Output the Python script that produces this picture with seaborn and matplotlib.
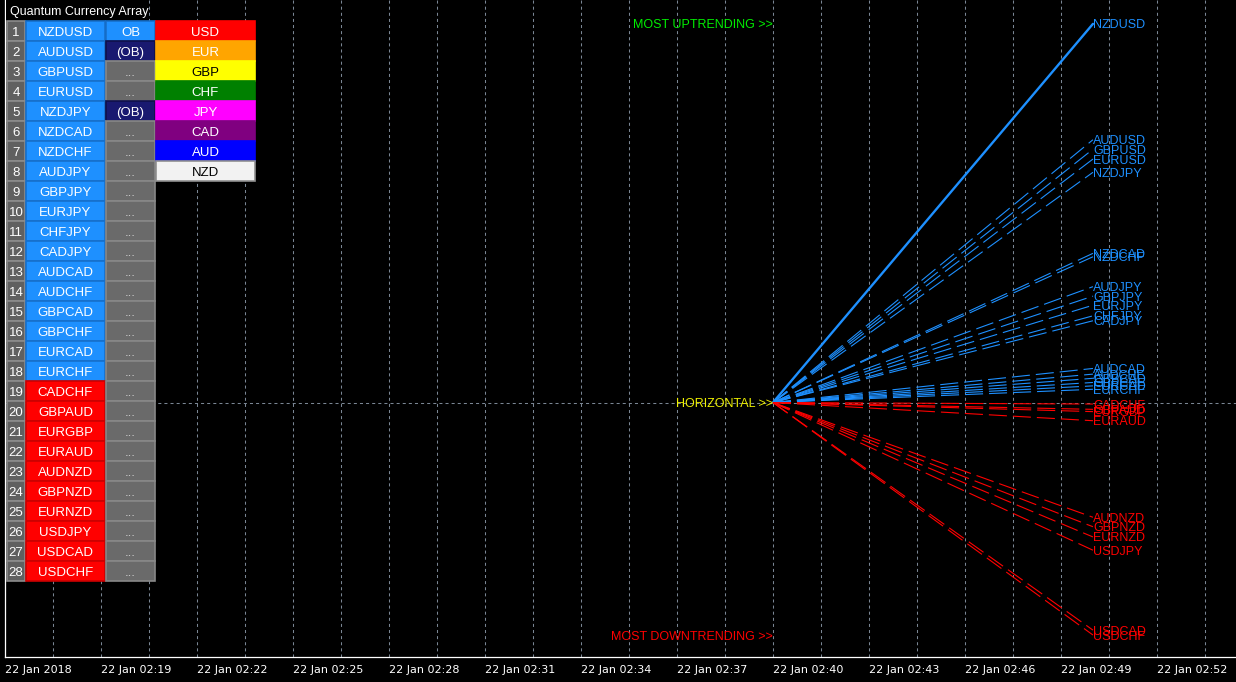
import numpy as np
import pandas as pd
import seaborn as sns
import matplotlib.pyplot as plt
from matplotlib.patches import Rectangle

# Pairs sorted by strength (top of table = strongest)
pairs = ["NZDUSD", "AUDUSD", "GBPUSD", "EURUSD", "NZDJPY", "NZDCAD", "NZDCHF",
         "AUDJPY", "GBPJPY", "EURJPY", "CHFJPY", "CADJPY", "AUDCAD", "AUDCHF",
         "GBPCAD", "GBPCHF", "EURCAD", "EURCHF", "CADCHF", "GBPAUD", "EURGBP",
         "EURAUD", "AUDNZD", "GBPNZD", "EURNZD", "USDJPY", "USDCAD", "USDCHF"]
strength = [100.0, 69.4, 66.9, 64.3, 60.8, 39.4, 38.5,
            30.6, 28.1, 25.7, 22.9, 21.6, 9.0, 7.5,
            6.4, 5.3, 4.4, 3.5, -0.4, -1.8, -2.4,
            -4.8, -30.3, -32.8, -35.5, -39.0, -60.1, -61.4]
status = ["OB", "(OB)", "...", "...", "(OB)"] + ["..."] * 23

currencies = ["USD", "EUR", "GBP", "CHF", "JPY", "CAD", "AUD", "NZD"]
currency_colors = ["#ff0000", "#ffa500", "#ffff00", "#008000",
                   "#ff00ff", "#800080", "#0000ff", "#f2f2f2"]

# time axis in minutes after 02:16
tick_minutes = list(range(0, 37, 3))
tick_labels = ["22 Jan 2018", "22 Jan 02:19", "22 Jan 02:22", "22 Jan 02:25",
               "22 Jan 02:28", "22 Jan 02:31", "22 Jan 02:34", "22 Jan 02:37",
               "22 Jan 02:40", "22 Jan 02:43", "22 Jan 02:46", "22 Jan 02:49",
               "22 Jan 02:52"]
start_min = 24   # 02:40
end_min = 34     # 02:50

BLUE = "#1e90ff"
RED = "#ff0000"
GRID = "#7a8694"

sns.set_style("dark", {"axes.facecolor": "black", "figure.facecolor": "black"})
plt.rcParams["font.family"] = ["Liberation Sans", "DejaVu Sans"]
plt.rcParams["lines.scale_dashes"] = False

rows = []
for p, v in zip(pairs, strength):
    kind = "solid" if p == pairs[0] else "dashed"
    rows.append((p, start_min, 0.0, kind))
    rows.append((p, end_min, v, kind))
df = pd.DataFrame(rows, columns=["pair", "minute", "strength", "kind"])
pal = {p: (BLUE if v >= 0 else RED) for p, v in zip(pairs, strength)}

fig = plt.figure(figsize=(12.36, 6.82), dpi=100)
ax = fig.add_axes([5 / 1236, 25 / 682, 1231 / 1236, 657 / 682])

sns.lineplot(data=df, x="minute", y="strength", hue="pair", palette=pal,
             style="kind", dashes={"solid": "", "dashed": (13, 4.3)},
             size="kind", sizes={"solid": 1.7, "dashed": 0.8},
             legend=False, errorbar=None, ax=ax)

ax.set_xlim(0, 38.47)
ax.set_ylim(-67.2, 106.3)
ax.set_xlabel("")
ax.set_ylabel("")
ax.set_yticks([])
ax.set_xticks(tick_minutes)
ax.set_xticklabels(tick_labels, ha="left", fontfamily="DejaVu Sans")
ax.set_xticks(np.arange(1.5, 38.5, 3), minor=True)
ax.tick_params(axis="x", which="major", length=3.6, width=0.8, color="white",
               labelcolor="white", labelsize=8, pad=2)
ax.tick_params(axis="x", which="minor", length=0)
ax.grid(False)
ax.grid(True, axis="x", which="both", color=GRID, linestyle=(0, (2.2, 2.2)), linewidth=0.75)
ax.axhline(0, color=GRID, linestyle=(0, (2.2, 2.2)), linewidth=0.75, zorder=0.5)
for s in ["top", "right"]:
    ax.spines[s].set_visible(False)
for s in ["left", "bottom"]:
    ax.spines[s].set_color("white")
    ax.spines[s].set_linewidth(0.9)

# labels at the end of each line
for p, v in zip(pairs, strength):
    ax.text(end_min, v, p, color=pal[p], fontsize=9, ha="left", va="center_baseline")

ax.text(start_min, max(strength), "MOST UPTRENDING >>", color="#00ee00", fontsize=9,
        ha="right", va="center_baseline")
ax.text(start_min, 0, "HORIZONTAL >>", color="#eef000", fontsize=9,
        ha="right", va="center_baseline")
ax.text(start_min, min(strength), "MOST DOWNTRENDING >>", color=RED, fontsize=9,
        ha="right", va="center_baseline")

# table overlay in pixel coordinates
tab = fig.add_axes([0, 0, 1, 1], zorder=5)
tab.set_xlim(0, 1236)
tab.set_ylim(682, 0)
tab.axis("off")
tab.patch.set_alpha(0)


def cell(x, y, w, h, fc, ec, text, tc):
    tab.add_patch(Rectangle((x, y), w, h, facecolor=fc, edgecolor=ec, linewidth=1.2))
    tab.text(x + w / 2, y + h / 2 + 0.5, text, color=tc, fontsize=9.5,
             ha="center", va="center_baseline")


tab.add_patch(Rectangle((6, 0), 143, 21, facecolor="black", edgecolor="none"))
tab.text(10, 11, "Quantum Currency Array", color="white", fontsize=9,
         ha="left", va="center_baseline")

for i, (p, v, st) in enumerate(zip(pairs, strength, status)):
    y = 21 + 20 * i
    cell(7, y, 18, 20, "#606060", "#8c8c8c", str(i + 1), "white")
    if v >= 0:
        cell(26, y, 79, 20, BLUE, "#1670cc", p, "white")
    else:
        cell(26, y, 79, 20, RED, "#cc0000", p, "white")
    if st == "OB":
        cell(106, y, 49, 20, BLUE, "#1670cc", st, "white")
    elif st == "(OB)":
        cell(106, y, 49, 20, "#191970", "#10104a", st, "white")
    else:
        cell(106, y, 49, 20, "#6a6a6a", "#888888", st, "#d8d8d8")

for i, (c, col) in enumerate(zip(currencies, currency_colors)):
    y = 21 + 20 * i
    tc = "black" if c in ("GBP", "NZD") else "white"
    cell(156, y, 99, 20, col, "#909090" if c == "NZD" else col, c, tc)

fig.savefig("out.png", dpi=100, facecolor="black")
